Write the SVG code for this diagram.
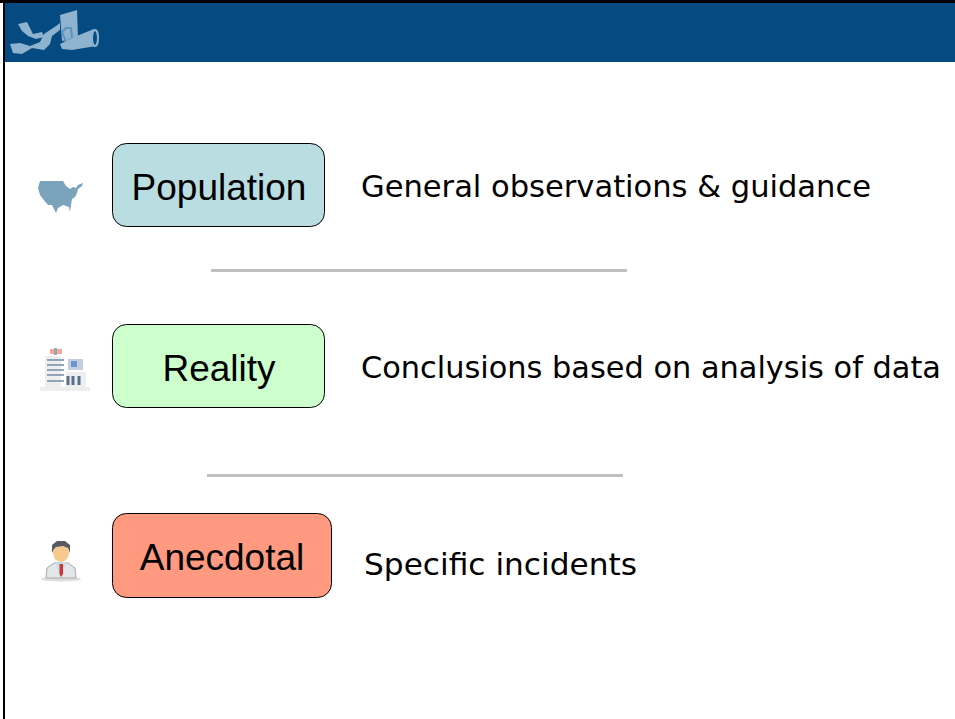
<svg xmlns="http://www.w3.org/2000/svg" width="955" height="719" viewBox="0 0 955 719">
<style>
.box{stroke:#000;stroke-width:1}
.lbl{font-family:"Liberation Sans",Arial,sans-serif;font-size:37px;fill:#000;text-anchor:middle}
.desc{font-family:"DejaVu Sans",sans-serif;font-size:31px;fill:#000}
.rule{stroke:#bfbfbf;stroke-width:3;fill:none}
.logo{fill:#8db3cf}
.logod{fill:none;stroke:#5f93b8;stroke-width:2}
</style>
<rect width="955" height="719" fill="#fff"/>
<g id="frame">
<rect x="3" y="3" width="952" height="59" fill="#054a80"/>
<rect x="0" y="0" width="955" height="3" fill="#000"/>
<rect x="3" y="0" width="2" height="719" fill="#000"/>
</g>
<g id="logo">
<path class="logo" d="M18 24L27 22L33 34L42 32L44 37L36 39L28 36L22 31Z"/>
<path class="logo" d="M10 44L20 43L30 46L40 42L44 34L56 26L60 23L60 30L52 36L50 44L44 50L32 48L22 54L13 53Z"/>
<path class="logo" d="M60 15L77 10L78 38L62 41Z"/>
<path class="logod" d="M62 32L66 42L72 38L71 28L66 28Z"/>
<path class="logo" d="M60 44L72 38L84 33L94 29L98 36L96 46L84 48L72 50L62 49Z"/>
<ellipse cx="95" cy="38" rx="3" ry="8" fill="#054a80" stroke="#8db3cf" stroke-width="2"/>
</g>
<g id="connectors">
<line class="rule" x1="211" y1="270.500" x2="627" y2="270.500"/>
<line class="rule" x1="207" y1="475.500" x2="623" y2="475.500"/>
</g>
<g id="population">
<path fill="#7ba3bc" d="M40 181L63 181L66 186L70 189L73 187L76 188L78 185L83 183L82 186L78 189L77 193L75 197L72 199L71 205L70 212L69 207L63 205L58 208L56 213L52 205L48 205L43 199L40 195L38 188Z"/>
<rect class="box" x="112.500" y="143.500" width="212" height="83" rx="14" fill="#b9dde1"/>
<text class="lbl" x="219" y="200">Population</text>
<text class="desc" x="361" y="197" textLength="510" lengthAdjust="spacingAndGlyphs">General observations &amp; guidance</text>
</g>
<g id="reality">
<rect x="45" y="356" width="16" height="32" fill="#eceef0"/>
<rect x="50" y="349" width="12" height="5" fill="#f3a798"/>
<rect x="54" y="348" width="3" height="7" fill="#9aa7b5"/>
<path stroke="#93a3b8" stroke-width="2" d="M47 360H64M47 365H64M47 370H64M47 375H64M47 381H64"/>
<rect x="68" y="359" width="15" height="11" fill="#c3cfe0"/>
<rect x="71" y="361" width="6" height="6" fill="#6f94cf"/>
<rect x="66" y="372" width="20" height="16" fill="#eceef0"/>
<path stroke="#5d6f84" stroke-width="3" d="M68 376V385M73 376V385M79 376V385"/>
<rect x="40" y="387" width="50" height="4" fill="#eeeeee"/>
<rect class="box" x="112.500" y="324.500" width="212" height="83" rx="14" fill="#ccffcc"/>
<text class="lbl" x="219" y="381">Reality</text>
<text class="desc" x="361" y="378" textLength="580" lengthAdjust="spacingAndGlyphs">Conclusions based on analysis of data</text>
</g>
<g id="anecdotal">
<ellipse cx="61" cy="579" rx="20" ry="2.500" fill="#dedede"/>
<path fill="#e4e7ea" stroke="#a8a8a8" d="M46 578L47 568L54 563L68 563L75 568L76 578Z"/>
<path fill="#bfe3f2" d="M56 563H66L63 576H59Z"/>
<path fill="#d9342b" d="M59.500 564H63L63 574L61 577L59.500 574Z"/>
<ellipse cx="61" cy="553" rx="8" ry="9" fill="#f7c98e"/>
<path fill="#555b60" d="M52 553L52 545L57 541H65L70 545L70 553L68 548L63 546L56 547L54 549Z"/>
<rect class="box" x="112.500" y="513.500" width="219" height="84" rx="14" fill="#ff9980"/>
<text class="lbl" x="222" y="570">Anecdotal</text>
<text class="desc" x="364" y="575" textLength="273" lengthAdjust="spacingAndGlyphs">Specific incidents</text>
</g>
</svg>
